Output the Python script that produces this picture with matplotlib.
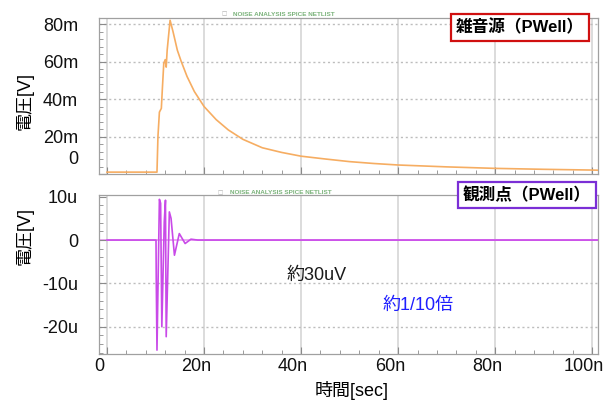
import matplotlib
matplotlib.use("Agg")
import matplotlib.pyplot as plt
from matplotlib.transforms import ScaledTranslation
from matplotlib.ticker import MultipleLocator

plt.rcParams['font.family'] = ['Liberation Sans', 'Noto Sans CJK JP', 'DejaVu Sans']

# ---- data (time in ns, top in mV, bottom in uV) ----
t_src = [0, 10.3, 10.5, 10.8, 11.2, 11.4, 11.7, 12.0, 12.2, 12.4, 13.0, 13.6, 14.5,
         15.3, 16.5, 18, 20, 22.5, 25, 28, 32, 36, 40, 45, 50, 55, 60, 70, 80, 90, 100, 101.5]
v_src = [1, 1, 20, 33, 35, 45, 59, 61, 57, 66, 82, 76, 66,
         60, 52, 44, 36, 29, 23.5, 18.5, 14, 11.5, 9.5, 8, 6.6, 5.6, 4.8, 3.8, 3.0, 2.5, 2.1, 2.0]

t_obs = [0, 10.1, 10.15, 10.3, 10.8, 11.05, 11.3, 11.8, 12.05, 12.2, 12.85, 13.2,
         13.9, 14.9, 16.1, 17.3, 18.7, 101.5]
v_obs = [0, 0, -8.8, -25.4, 9.4, 8.5, -20, 4.2, 9.2, -22.3, 6.5, 5,
         -3.5, 1.5, -0.8, 0.2, 0, 0]

x_ticks = [0, 20, 40, 60, 80, 100]
x_ticklabels = ['0', '20n', '40n', '60n', '80n', '100n']
y_src_ticks = [0, 20, 40, 60, 80]
y_src_ticklabels = ['0', '20m', '40m', '60m', '80m']
y_obs_ticks = [-20, -10, 0, 10]
y_obs_ticklabels = ['-20u', '-10u', '0', '10u']

W, H = 614, 401
fig = plt.figure(figsize=(W / 100, H / 100), dpi=100)

def fx(px):
    return px / W

def fy(py):
    return 1 - py / H

L, R = 99, 598
ax1 = fig.add_axes([fx(L), fy(174), fx(R - L), (174 - 18) / H])
ax2 = fig.add_axes([fx(L), fy(354), fx(R - L), (354 - 195) / H])

xlim = (-1.65, 101.2)
spine_c = '#a0a0a0'
grid_c = '#d2d2d2'

for ax in (ax1, ax2):
    ax.set_xlim(*xlim)
    ax.set_xticks(x_ticks)
    ax.xaxis.set_minor_locator(MultipleLocator(4))
    for s in ax.spines.values():
        s.set_color(spine_c)
        s.set_linewidth(0.9)
    ax.tick_params(which='both', direction='in', colors='#8a8a8a')
    ax.tick_params(which='major', length=5, width=0.8)
    ax.tick_params(which='minor', length=3, width=0.6)
    ax.tick_params(axis='y', which='major', pad=15, labelsize=13, labelcolor='#111111')
    ax.tick_params(axis='x', which='major', pad=3, labelsize=13, labelcolor='#111111')
    for xv in x_ticks:
        ax.axvline(xv, color=grid_c, lw=1.1, zorder=0)

# top panel
ax1.set_ylim(0, 83.2)
ax1.set_yticks(y_src_ticks)
ax1.set_yticklabels(y_src_ticklabels)
ax1.yaxis.set_minor_locator(MultipleLocator(4))
ax1.tick_params(axis='x', labelbottom=False)
for yv in y_src_ticks[1:]:
    ax1.axhline(yv, color='#bdbdbd', lw=1.0, ls=(0, (1.5, 2)), zorder=0)
ax1.plot(t_src, v_src, color='#f6ad62', lw=1.2, zorder=3)

# bottom panel
ax2.set_ylim(-26.3, 10.4)
ax2.set_yticks(y_obs_ticks)
ax2.set_yticklabels(y_obs_ticklabels)
ax2.yaxis.set_minor_locator(MultipleLocator(2))
ax2.set_xticklabels(x_ticklabels)
for yv in [-20, -10]:
    ax2.axhline(yv, color='#bdbdbd', lw=1.0, ls=(0, (1.5, 2)), zorder=0)
ax2.axhline(0, color='#eaa8f2', lw=1.4, zorder=1)
ax2.plot(t_obs, v_obs, color='#c94ae8', lw=1.2, zorder=3)

# label offsets (labels in the reference sit slightly off the grid)
for lab in ax1.get_yticklabels():
    if lab.get_text() == '0':
        lab.set_transform(lab.get_transform() + ScaledTranslation(0, 12 / 72, fig.dpi_scale_trans))
for lab in ax2.get_xticklabels():
    lab.set_transform(lab.get_transform() + ScaledTranslation(-8 / 100, 0, fig.dpi_scale_trans))

# axis titles
fig.text(fx(25), fy(101), '電圧[V]', rotation=90, ha='center', va='center', fontsize=13)
fig.text(fx(25), fy(236), '電圧[V]', rotation=90, ha='center', va='center', fontsize=13)
fig.text(fx(352), fy(391), '時間[sec]', ha='center', va='center', fontsize=13)

# small viewer titles
for (px, py) in [(221, 14), (218, 193)]:
    fig.text(fx(px), fy(py), '\u25a1', ha='left', va='center', fontsize=4, color='#aaaaaa',
             family=['DejaVu Sans'])
    fig.text(fx(px + 12), fy(py), 'NOISE ANALYSIS SPICE NETLIST', ha='left', va='center',
             fontsize=4.6, color='#5aa05a', alpha=0.8, fontweight='bold')

# boxed labels
fig.text(fx(520), fy(27.5), '雑音源（PWell）', ha='center', va='center', fontsize=12,
         fontweight='bold', color='black',
         bbox=dict(boxstyle='square,pad=0.3', fc='white', ec='#d01010', lw=1.6))
fig.text(fx(526.5), fy(195), '観測点（PWell）', ha='center', va='center', fontsize=12,
         fontweight='bold', color='black',
         bbox=dict(boxstyle='square,pad=0.3', fc='white', ec='#7b2fd6', lw=1.6))

# annotations
fig.text(fx(287), fy(275), '約30uV', ha='left', va='center', fontsize=13, color='#1a1a1a')
fig.text(fx(383), fy(305), '約1/10倍', ha='left', va='center', fontsize=13, color='#1f1fff')

fig.savefig('out.png', dpi=100)
